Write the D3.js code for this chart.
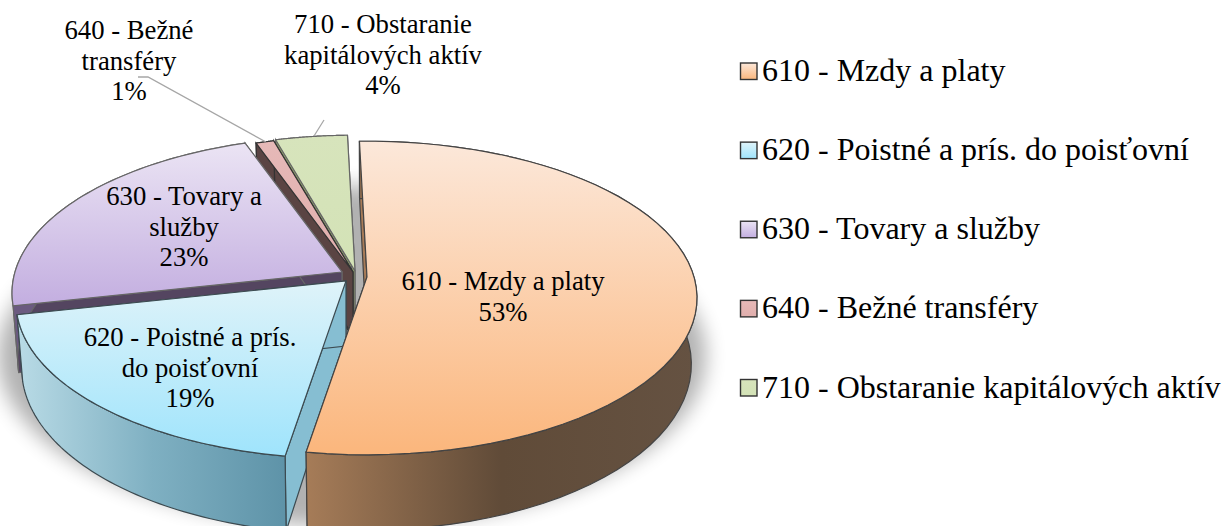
<!DOCTYPE html>
<html><head><meta charset="utf-8">
<script src="https://cdnjs.cloudflare.com/ajax/libs/d3/7.8.5/d3.min.js"></script>
<style>html,body{margin:0;padding:0;background:#fff;overflow:hidden}text{font-family:"Liberation Serif",serif;fill:#000}</style>
</head><body><svg id="c" width="1224" height="526"></svg>
<script>
const categories=["610 - Mzdy a platy","620 - Poistné a prís. do poisťovní","630 - Tovary a služby","640 - Bežné transféry","710 - Obstaranie kapitálových aktív"];
const values=[53,19,23,1,4];
const labelLines=[["610 - Mzdy a platy","53%"],["620 - Poistné a prís.","do poisťovní","19%"],["630 - Tovary a","služby","23%"],["640 - Bežné","transféry","1%"],["710 - Obstaranie","kapitálových aktív","4%"]];
const labelPos=[[503,290],[190,346],[184,205],[129,39],[383,33]];
const apex=[[367,277],[346,281],[342,272],[353,272],[355,271]];
const topLight=["#fce8da","#dff3f9","#ebe4f4","#e6b9b8","#d7e4bc"];
const topDark=["#fbb67c","#9fe4fc","#c3aee0","#e0aeac","#d3e2b6"];
const wallLeft=["#a67c58","#b9dbe6","#6b5a80","#5a4443","#8a9a6a"];
const wallMid=["#604b38","#7fb0c2","#6b5a80","#5a4443","#8a9a6a"];
const wallRight=["#655242","#5e93a8","#6b5a80","#5a4443","#8a9a6a"];
const cutFill=["#a87c58","#86bed2","#544560","#5a4443","#8a9a6a"];
const stroke=["#444","#3c4a50","#666","#333","#666"];
const drawOrder=[4,3,2,1,0];

const A=327,B=154,P=0.134,H=65,BS=0.983;
const rad=d=>d*Math.PI/180;
const svg=d3.select("#c"),defs=svg.append("defs");
const arcs=d3.pie().sort(null).value(d=>d).startAngle(rad(-1.5)).endAngle(rad(358.5))(values);

function pt(a,i,r,down){
  const X=Math.sin(a)*r,Z=-Math.cos(a)*r,w=1-P*Z;
  const s=down?BS:1;
  return [apex[i][0]+A*X/w*s, apex[i][1]+B*Z/w+(down?H/w:0)];
}
const line=d3.line();
const samples=(a0,a1)=>d3.range(0,61).map(k=>a0+(a1-a0)*k/60);

values.forEach((v,i)=>{
  const g=defs.append("linearGradient").attr("id","t"+i).attr("x1",0).attr("y1",0).attr("x2",0).attr("y2",1);
  g.append("stop").attr("offset",0).attr("stop-color",topLight[i]);
  g.append("stop").attr("offset",1).attr("stop-color",topDark[i]);
  const w=defs.append("linearGradient").attr("id","w"+i).attr("x1",0).attr("y1",0).attr("x2",1).attr("y2",0);
  w.append("stop").attr("offset",0).attr("stop-color",wallLeft[i]);
  w.append("stop").attr("offset",.5).attr("stop-color",wallMid[i]);
  w.append("stop").attr("offset",1).attr("stop-color",wallRight[i]);
});
defs.append("filter").attr("id","blur").attr("x","-20%").attr("y","-20%").attr("width","140%").attr("height","140%")
  .append("feGaussianBlur").attr("stdDeviation",10);

svg.append("ellipse").attr("cx",352).attr("cy",356).attr("rx",354).attr("ry",170)
  .attr("fill","#000").attr("opacity",.3).attr("filter","url(#blur)");

drawOrder.forEach(i=>{
  const d=arcs[i],g=svg.append("g");
  const a0=d.startAngle,a1=d.endAngle,ap=apex[i],apB=[ap[0],ap[1]+H];
  const sw=1.2;
  [a0,a1].forEach(a=>{
    g.append("path").attr("d",line([ap,pt(a,i,1,false),pt(a,i,1,true),apB])+"Z")
      .attr("fill",cutFill[i]).attr("stroke",stroke[i]).attr("stroke-width",sw);
  });
  const as=samples(a0,a1);
  g.append("path").attr("d",line(as.map(a=>pt(a,i,1,false)).concat(as.slice().reverse().map(a=>pt(a,i,1,true))))+"Z")
    .attr("fill",`url(#w${i})`).attr("stroke",stroke[i]).attr("stroke-width",sw);
  g.append("path").attr("d",line([ap].concat(as.map(a=>pt(a,i,1,false))))+"Z")
    .attr("fill",`url(#t${i})`).attr("stroke",stroke[i]).attr("stroke-width",sw);
});

const leaders=[[[138,77],[148,77],[266,142]],[[324,120],[314,136]]];
leaders.forEach(l=>svg.append("path").attr("d",line(l)).attr("fill","none").attr("stroke","#a6a6a6").attr("stroke-width",1.3));

labelLines.forEach((ls,i)=>{
  const t=svg.append("text").attr("text-anchor","middle").attr("font-size",26.7);
  ls.forEach((s,k)=>t.append("tspan").attr("x",labelPos[i][0]).attr("y",labelPos[i][1]+k*30.5).text(s));
});

const ly=d3.scalePoint().domain(categories).range([71.5,388]);
categories.forEach((c,i)=>{
  svg.append("rect").attr("x",740.5).attr("y",ly(c)-8.5).attr("width",16.5).attr("height",16.5)
    .attr("fill",`url(#t${i})`).attr("stroke","#333").attr("stroke-width",1.4);
  svg.append("text").attr("x",762).attr("y",ly(c)+9.5).attr("font-size",32).text(c);
});
</script></body></html>
